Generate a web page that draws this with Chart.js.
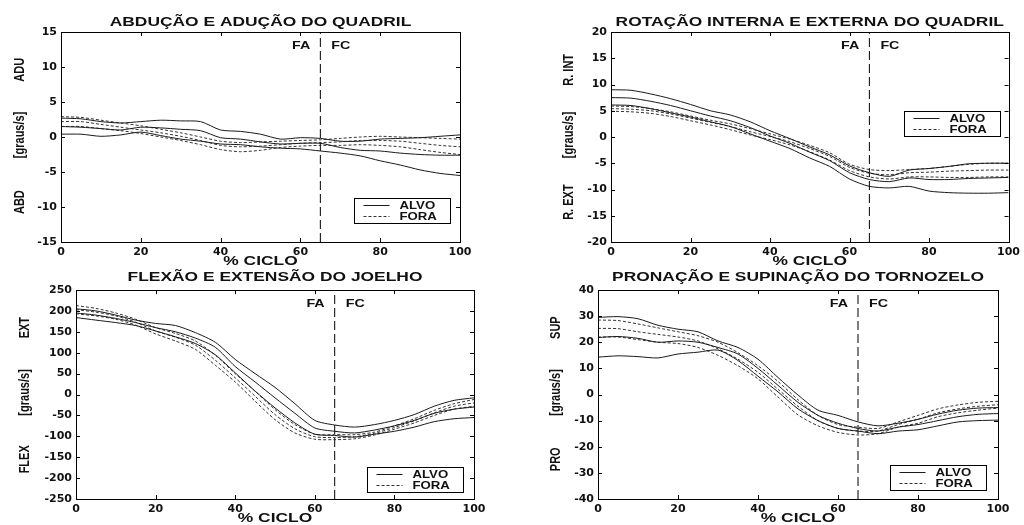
<!DOCTYPE html>
<html>
<head>
<meta charset="utf-8">
<script src="https://cdn.jsdelivr.net/npm/chart.js@4.4.1/dist/chart.umd.min.js"></script>
<style>
  html, body { margin: 0; padding: 0; background: #fff; }
  #wrap { position: relative; width: 1024px; height: 525px; }
  #wrap canvas { position: absolute; left: 0; top: 0; }
</style>
</head>
<body>
<div id="wrap">
  <canvas id="abd" width="1024" height="525"></canvas>
  <canvas id="rot" width="1024" height="525"></canvas>
  <canvas id="joe" width="1024" height="525"></canvas>
  <canvas id="tor" width="1024" height="525"></canvas>
</div>
<script>
// % do ciclo
const ciclo = [0, 5, 10, 15, 20, 25, 30, 35, 40, 45, 50, 55, 60, 65, 70, 75, 80, 85, 90, 95, 100];
const faFc = 65;
const xTicks = [0, 20, 40, 60, 80, 100];

// abducao / aducao do quadril
const abdTicks = [-15, -10, -5, 0, 5, 10, 15];
const abdAlvoSup = [2.7, 2.6, 2.2, 2.0, 2.2, 2.4, 2.3, 2.2, 1.0, 0.8, 0.4, -0.3, -0.1, -0.2, -0.6, -0.6, -0.3, -0.2, -0.1, 0.1, 0.3];
const abdAlvoMed = [1.5, 1.4, 1.2, 1.0, 1.4, 1.3, 1.1, 0.9, -0.1, -0.3, -0.7, -1.0, -0.9, -0.9, -1.5, -1.9, -2.0, -2.3, -2.5, -2.6, -2.6];
const abdAlvoInf = [0.4, 0.4, 0.1, 0.3, 0.7, 0.2, -0.3, -0.6, -1.0, -1.1, -1.4, -1.6, -1.7, -2.0, -2.3, -2.7, -3.4, -4.0, -4.7, -5.2, -5.5];
const abdForaSup = [2.9, 2.8, 2.4, 2.0, 1.6, 1.1, 0.6, 0.0, -0.6, -0.8, -0.7, -0.6, -0.5, -0.4, -0.2, 0.0, 0.1, 0.0, -0.1, -0.2, -0.3];
const abdForaMed = [2.2, 2.2, 1.8, 1.4, 1.0, 0.6, 0.1, -0.5, -1.2, -1.4, -1.3, -1.1, -0.9, -0.8, -0.7, -0.5, -0.5, -0.6, -0.9, -1.2, -1.4];
const abdForaInf = [1.5, 1.5, 1.2, 0.9, 0.5, 0.0, -0.5, -1.1, -1.8, -2.1, -1.9, -1.5, -1.3, -1.2, -1.2, -1.1, -1.2, -1.4, -1.8, -2.2, -2.5];

// rotacao interna / externa do quadril
const rotTicks = [-20, -15, -10, -5, 0, 5, 10, 15, 20];
const rotAlvoSup = [9.0, 8.9, 8.2, 7.3, 6.2, 5.0, 4.2, 2.9, 1.2, -0.3, -1.9, -3.4, -5.5, -6.8, -7.5, -6.3, -6.0, -5.6, -5.1, -5.0, -5.0];
const rotAlvoMed = [7.5, 7.4, 6.8, 6.0, 5.0, 4.0, 3.1, 1.8, 0.2, -1.2, -2.9, -4.5, -6.8, -8.1, -8.5, -7.8, -8.1, -8.1, -7.9, -7.8, -7.7];
const rotAlvoInf = [6.1, 6.0, 5.4, 4.6, 3.8, 2.9, 2.0, 0.6, -0.8, -2.2, -4.0, -5.6, -8.0, -9.4, -9.7, -9.4, -10.3, -10.6, -10.7, -10.7, -10.6];
const rotForaSup = [5.9, 5.8, 5.4, 4.8, 4.0, 3.2, 2.5, 1.6, 0.6, -0.4, -1.6, -3.0, -5.2, -6.2, -6.4, -6.2, -6.0, -5.6, -5.2, -5.0, -5.0];
const rotForaMed = [5.4, 5.3, 5.0, 4.4, 3.6, 2.8, 2.0, 1.0, 0.1, -0.9, -2.2, -3.7, -5.8, -6.9, -7.2, -6.8, -6.7, -6.5, -6.4, -6.3, -6.3];
const rotForaInf = [4.9, 4.8, 4.5, 3.9, 3.1, 2.3, 1.4, 0.4, -0.5, -1.5, -2.8, -4.4, -6.4, -7.6, -8.0, -7.6, -7.6, -7.7, -7.7, -7.6, -7.6];

// flexao / extensao do joelho
const joeTicks = [-250, -200, -150, -100, -50, 0, 50, 100, 150, 200, 250];
const joeAlvoSup = [205, 200, 190, 178, 170, 165, 148, 125, 84, 50, 17, -22, -62, -73, -78, -72, -62, -48, -28, -14, -8];
const joeAlvoMed = [195, 190, 182, 172, 160, 150, 135, 113, 67, 30, -8, -45, -80, -88, -92, -85, -75, -62, -45, -35, -30];
const joeAlvoInf = [184, 178, 172, 165, 152, 138, 122, 95, 52, 8, -32, -68, -95, -98, -102, -95, -88, -78, -65, -58, -55];
const joeForaSup = [213, 206, 195, 180, 160, 146, 128, 94, 50, 8, -36, -72, -95, -96, -96, -90, -75, -58, -38, -22, -12];
const joeForaMed = [203, 197, 188, 173, 152, 137, 118, 82, 40, -4, -48, -82, -101, -103, -101, -93, -79, -63, -44, -28, -20];
const joeForaInf = [193, 188, 180, 166, 145, 128, 108, 70, 30, -16, -60, -92, -107, -108, -106, -97, -83, -68, -50, -35, -28];

// pronacao / supinacao do tornozelo
const torTicks = [-40, -30, -20, -10, 0, 10, 20, 30, 40];
const torAlvoSup = [29.5, 29.8, 29.0, 26.5, 25.0, 24.0, 20.5, 18.0, 13.5, 6.5, -0.2, -6.0, -8.0, -10.5, -12.0, -11.0, -9.5, -7.5, -6.0, -5.2, -5.0];
const torAlvoMed = [21.8, 22.2, 21.5, 20.0, 20.5, 20.0, 18.0, 15.5, 10.0, 3.5, -3.0, -8.0, -11.0, -13.0, -14.0, -12.5, -11.5, -10.0, -8.5, -7.6, -7.3];
const torAlvoInf = [14.3, 14.8, 14.5, 14.0, 15.5, 16.2, 17.0, 13.0, 7.0, 1.0, -5.5, -10.0, -13.0, -14.0, -15.0, -14.0, -13.5, -12.0, -10.5, -10.0, -9.8];
const torForaSup = [28.5, 28.3, 27.0, 25.5, 24.0, 22.5, 20.0, 16.0, 11.0, 5.0, -2.0, -8.0, -11.5, -12.5, -13.0, -10.5, -8.0, -5.5, -4.0, -3.0, -2.6];
const torForaMed = [25.3, 25.2, 24.0, 23.0, 22.0, 20.5, 17.5, 13.5, 8.5, 2.0, -4.5, -10.0, -13.0, -14.0, -14.0, -11.5, -9.5, -7.0, -5.5, -4.5, -3.9];
const torForaInf = [22.0, 22.0, 21.0, 20.0, 19.5, 18.0, 15.0, 11.0, 6.0, -1.0, -7.8, -12.0, -14.5, -15.5, -15.0, -12.5, -11.0, -8.5, -7.0, -6.0, -5.2];

const FONT = '"Liberation Sans", Arial, sans-serif';

// texto esticado na horizontal, como na figura original
function drawText(ctx, str, x, y, size, align, rotated, sx) {
  ctx.save();
  ctx.translate(x, y);
  ctx.scale(sx || 1.4, 1);
  if (rotated) ctx.rotate(-Math.PI / 2);
  ctx.font = 'bold ' + size + 'px ' + FONT;
  ctx.textAlign = align;
  ctx.textBaseline = 'middle';
  ctx.fillStyle = '#111';
  ctx.fillText(str, 0, 0);
  ctx.restore();
}

function panelPlugin(cfg) {
  return {
    id: 'panel',
    afterDraw(chart) {
      const ctx = chart.ctx;
      const a = chart.chartArea;
      const xs = chart.scales.x, ys = chart.scales.y;
      ctx.save();
      ctx.strokeStyle = '#000';
      ctx.lineWidth = 1;
      ctx.strokeRect(Math.round(a.left) + 0.5, Math.round(a.top) + 0.5, Math.round(a.right - a.left), Math.round(a.bottom - a.top));
      // marcas para dentro
      ctx.beginPath();
      xs.ticks.forEach(t => {
        const px = Math.round(xs.getPixelForValue(t.value)) + 0.5;
        ctx.moveTo(px, a.bottom); ctx.lineTo(px, a.bottom - 4);
        ctx.moveTo(px, a.top); ctx.lineTo(px, a.top + 4);
      });
      ys.ticks.forEach(t => {
        const py = Math.round(ys.getPixelForValue(t.value)) + 0.5;
        ctx.moveTo(a.left, py); ctx.lineTo(a.left + 4, py);
        ctx.moveTo(a.right, py); ctx.lineTo(a.right - 4, py);
      });
      ctx.stroke();

      const cx = (a.left + a.right) / 2;
      const h = a.bottom - a.top;
      drawText(ctx, cfg.title, cx, a.top - cfg.titleGap, 12, 'center', false, 1.45);
      drawText(ctx, '% CICLO', cx, a.bottom + 20, 12, 'center', false, 1.45);

      const lx = a.left - cfg.yLabelGap;
      drawText(ctx, cfg.yLabels[0], lx, a.top + h * 0.18, 11, 'center', true, 1.25);
      drawText(ctx, cfg.yLabels[1], lx, a.top + h * 0.49, 11, 'center', true, 1.25);
      drawText(ctx, cfg.yLabels[2], lx, a.top + h * 0.81, 11, 'center', true, 1.25);

      const vx = xs.getPixelForValue(faFc);
      drawText(ctx, 'FA', vx - 10, a.top + 14, 11, 'right', false, 1.3);
      drawText(ctx, 'FC', vx + 11, a.top + 14, 11, 'left', false, 1.3);

      // legenda
      const bw = 96, bh = 25;
      const bx = Math.round(a.right - cfg.legend.right - bw) + 0.5;
      const by = Math.round(cfg.legend.top !== undefined ? a.top + cfg.legend.top : a.bottom - cfg.legend.bottom - bh) + 0.5;
      ctx.fillStyle = '#fff';
      ctx.fillRect(bx, by, bw, bh);
      ctx.strokeStyle = '#000';
      ctx.setLineDash([]);
      ctx.strokeRect(bx, by, bw, bh);
      const items = [chart.data.datasets[1], chart.data.datasets[4]];
      items.forEach((d, i) => {
        const ry = Math.round(by + 6 + i * 11.5) + 0.5;
        ctx.strokeStyle = d.borderColor;
        ctx.setLineDash(d.borderDash || []);
        ctx.beginPath();
        ctx.moveTo(bx + 9, ry);
        ctx.lineTo(bx + 35, ry);
        ctx.stroke();
        drawText(ctx, d.label, bx + 45, ry, 11, 'left', false, 1.2);
      });
      ctx.restore();
    }
  };
}

function makePanel(id, cfg) {
  const yTicks = cfg.ticks;
  const solid = { borderColor: '#1a1a1a', borderWidth: 1, pointRadius: 0, tension: 0.25, fill: false };
  const dashed = { borderColor: '#333', borderWidth: 1, borderDash: [3, 2], pointRadius: 0, tension: 0.25, fill: false };
  const datasets = [];
  cfg.alvo.forEach(s => datasets.push(Object.assign({ label: 'ALVO', data: ciclo.map((x, k) => ({ x: x, y: s[k] })) }, solid)));
  cfg.fora.forEach(s => datasets.push(Object.assign({ label: 'FORA', data: ciclo.map((x, k) => ({ x: x, y: s[k] })) }, dashed)));
  datasets.push({
    label: 'FA/FC',
    data: [{ x: faFc, y: yTicks[0] }, { x: faFc, y: yTicks[yTicks.length - 1] }],
    borderColor: '#000', borderWidth: 1, borderDash: [9, 4], pointRadius: 0, tension: 0
  });

  const a = cfg.area;
  new Chart(document.getElementById(id), {
    type: 'line',
    data: { datasets: datasets },
    options: {
      responsive: false,
      animation: false,
      events: [],
      layout: { padding: { left: a[0] - 40, top: a[1], right: 1024 - a[2], bottom: 525 - a[3] - 20 } },
      plugins: { legend: { display: false }, tooltip: { enabled: false } },
      scales: {
        x: {
          type: 'linear', min: 0, max: 100,
          afterBuildTicks: s => { s.ticks = xTicks.map(v => ({ value: v })); },
          afterFit: s => { s.height = 20; },
          grid: { display: false, drawTicks: false, tickLength: 0 },
          border: { display: false },
          ticks: { color: '#111', padding: 4, maxRotation: 0, font: { family: 'DejaVu Sans', size: 11, weight: 'bold' } }
        },
        y: {
          type: 'linear', min: yTicks[0], max: yTicks[yTicks.length - 1],
          afterBuildTicks: s => { s.ticks = yTicks.map(v => ({ value: v })); },
          afterFit: s => { s.width = 40; },
          grid: { display: false, drawTicks: false, tickLength: 0 },
          border: { display: false },
          ticks: { color: '#111', padding: 4, font: { family: 'DejaVu Sans', size: 11, weight: 'bold' } }
        }
      }
    },
    plugins: [panelPlugin(cfg)]
  });
}

makePanel('abd', {
  title: 'ABDUÇÃO E ADUÇÃO DO QUADRIL', titleGap: 9, yLabelGap: 41,
  yLabels: ['ADU', '[graus/s]', 'ABD'], ticks: abdTicks,
  area: [61, 32, 460, 242], legend: { right: 10, bottom: 19 },
  alvo: [abdAlvoSup, abdAlvoMed, abdAlvoInf], fora: [abdForaSup, abdForaMed, abdForaInf]
});
makePanel('rot', {
  title: 'ROTAÇÃO INTERNA E EXTERNA DO QUADRIL', titleGap: 9, yLabelGap: 42,
  yLabels: ['R. INT', '[graus/s]', 'R. EXT'], ticks: rotTicks,
  area: [611, 32, 1011, 242], legend: { right: 9, top: 79 },
  alvo: [rotAlvoSup, rotAlvoMed, rotAlvoInf], fora: [rotForaSup, rotForaMed, rotForaInf]
});
makePanel('joe', {
  title: 'FLEXÃO E EXTENSÃO DO JOELHO', titleGap: 12, yLabelGap: 51,
  yLabels: ['EXT', '[graus/s]', 'FLEX'], ticks: joeTicks,
  area: [76, 290, 474, 499], legend: { right: 11, bottom: 7 },
  alvo: [joeAlvoSup, joeAlvoMed, joeAlvoInf], fora: [joeForaSup, joeForaMed, joeForaInf]
});
makePanel('tor', {
  title: 'PRONAÇÃO E SUPINAÇÃO DO TORNOZELO', titleGap: 12, yLabelGap: 42,
  yLabels: ['SUP', '[graus/s]', 'PRO'], ticks: torTicks,
  area: [598, 290, 998, 499], legend: { right: 12, bottom: 9 },
  alvo: [torAlvoSup, torAlvoMed, torAlvoInf], fora: [torForaSup, torForaMed, torForaInf]
});
</script>
</body>
</html>
